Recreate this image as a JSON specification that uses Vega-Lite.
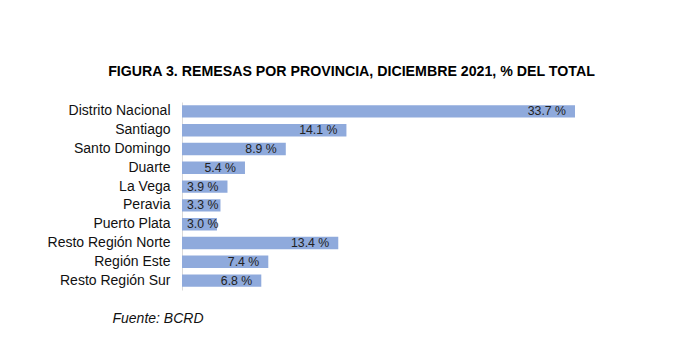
{
  "$schema": "https://vega.github.io/schema/vega-lite/v6.json",
  "autosize": {"type": "none"},
  "padding": {"left": 182, "top": 102, "right": 107, "bottom": 65},
  "width": 393,
  "height": 188,
  "background": "white",
  "title": {
    "text": "FIGURA 3. REMESAS POR PROVINCIA, DICIEMBRE 2021, % DEL TOTAL",
    "font": "Liberation Sans",
    "fontSize": 14.2,
    "fontWeight": "bold",
    "color": "#000000",
    "anchor": "middle",
    "frame": "group",
    "dx": -27,
    "baseline": "alphabetic",
    "offset": 12
  },
  "data": {
    "values": [
      {"region": "Distrito Nacional", "value": 33.7, "label": "33.7 %"},
      {"region": "Santiago", "value": 14.1, "label": "14.1 %"},
      {"region": "Santo Domingo", "value": 8.9, "label": "8.9 %"},
      {"region": "Duarte", "value": 5.4, "label": "5.4 %"},
      {"region": "La Vega", "value": 3.9, "label": "3.9 %"},
      {"region": "Peravia", "value": 3.3, "label": "3.3 %"},
      {"region": "Puerto Plata", "value": 3.0, "label": "3.0 %"},
      {"region": "Resto Región Norte", "value": 13.4, "label": "13.4 %"},
      {"region": "Región Este", "value": 7.4, "label": "7.4 %"},
      {"region": "Resto Región Sur", "value": 6.8, "label": "6.8 %"}
    ]
  },
  "encoding": {
    "y": {
      "field": "region",
      "type": "nominal",
      "sort": null,
      "scale": {"paddingInner": 0.34, "paddingOuter": 0.17},
      "axis": {
        "title": null,
        "ticks": false,
        "domain": true,
        "domainColor": "#d9d9d9",
        "domainWidth": 1,
        "labelPadding": 12,
        "labelFont": "Liberation Sans",
        "labelFontSize": 14,
        "labelColor": "#111111",
        "labelLimit": 300
      }
    }
  },
  "layer": [
    {
      "mark": {"type": "bar", "color": "#8FAADC"},
      "encoding": {
        "x": {
          "field": "value",
          "type": "quantitative",
          "scale": {"domain": [0, 33.7], "nice": false, "zero": true},
          "axis": {
            "labels": false,
            "ticks": false,
            "domain": false,
            "grid": false,
            "title": "Fuente: BCRD",
            "titleFont": "Liberation Sans",
            "titleFontSize": 14,
            "titleFontStyle": "italic",
            "titleFontWeight": "normal",
            "titleColor": "#111111",
            "titleAlign": "left",
            "titleAnchor": "start",
            "titleBaseline": "alphabetic",
            "titleX": -70,
            "titleY": 32
          }
        }
      }
    },
    {
      "transform": [{"calculate": "max(datum.value, 3.9)", "as": "labelpos"}],
      "mark": {
        "type": "text",
        "align": "right",
        "baseline": "middle",
        "dx": -9,
        "font": "Liberation Sans",
        "fontSize": 12.3,
        "color": "#222222"
      },
      "encoding": {
        "x": {"field": "labelpos", "type": "quantitative"},
        "text": {"field": "label"}
      }
    }
  ],
  "config": {"view": {"stroke": null}}
}
